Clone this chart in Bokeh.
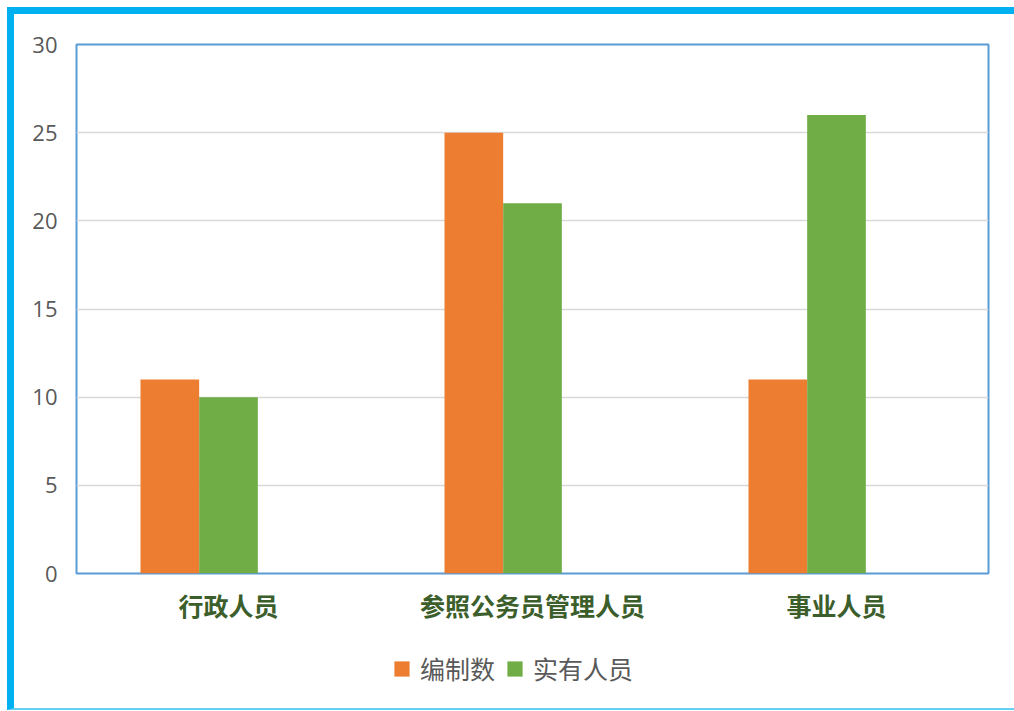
from bokeh.plotting import figure
from bokeh.layouts import column
from bokeh.models import ColumnDataSource, FactorRange, Legend, LegendItem, FixedTicker, InlineStyleSheet
from bokeh.transform import dodge
from bokeh.embed import file_html
from bokeh.resources import INLINE

categories = ["行政人员", "参照公务员管理人员", "事业人员"]
bianzhi = [11, 25, 11]      # 编制数
shiyou = [10, 21, 26]       # 实有人员
series_names = ["编制数", "实有人员"]
series_colors = ["#ED7D31", "#70AD47"]
y_ticks = [0, 5, 10, 15, 20, 25, 30]

src = ColumnDataSource(data=dict(cat=categories, bianzhi=bianzhi, shiyou=shiyou))

W = 1014
H1, H2 = 625, 86
p = figure(x_range=FactorRange(*categories), y_range=(0, 30),
           width=W, height=H1, output_backend="svg", toolbar_location=None,
           min_border_left=76, min_border_right=26, min_border_top=44, min_border_bottom=47)
p.background_fill_color = "white"
p.border_fill_color = "white"
p.outline_line_color = "#5B9BD5"
p.outline_line_width = 2

bw = 0.193
r1 = p.vbar(x=dodge("cat", -bw, range=p.x_range), top="bianzhi", width=bw, source=src,
            fill_color=series_colors[0], line_color=None)
r2 = p.vbar(x=dodge("cat", 0.0, range=p.x_range), top="shiyou", width=bw, source=src,
            fill_color=series_colors[1], line_color=None)

# axes
p.yaxis.ticker = FixedTicker(ticks=y_ticks)
p.yaxis.axis_line_color = None
p.yaxis.major_tick_line_color = None
p.yaxis.minor_tick_line_color = None
p.yaxis.major_label_text_font = "Open Sans"
p.yaxis.major_label_text_font_size = "22px"
p.yaxis.major_label_text_color = "#595959"
p.yaxis.major_label_standoff = 13

p.xaxis.axis_line_color = None
p.xaxis.major_tick_line_color = None
p.xaxis.minor_tick_line_color = None
p.xaxis.major_label_text_font = "Noto Sans CJK SC"
p.xaxis.major_label_text_font_style = "bold"
p.xaxis.major_label_text_font_size = "25px"
p.xaxis.major_label_text_color = "#3B5E2B"
p.xaxis.major_label_standoff = 7

p.xgrid.grid_line_color = None
p.ygrid.grid_line_color = "#D9D9D9"
p.ygrid.grid_line_width = 1.5

# legend strip below the chart
q = figure(width=W, height=H2, output_backend="svg", toolbar_location=None,
           x_axis_type=None, y_axis_type=None, x_range=(0, 1), y_range=(0, 1),
           min_border=0)
q.outline_line_color = None
q.background_fill_color = "white"
q.border_fill_color = "white"
q.xgrid.grid_line_color = None
q.ygrid.grid_line_color = None
# invisible proxies, only used to draw the legend swatches
lr1 = q.vbar(x=[0], top=[bianzhi[0]], width=1, fill_color=series_colors[0], line_color=None, visible=False)
lr2 = q.vbar(x=[0], top=[shiyou[0]], width=1, fill_color=series_colors[1], line_color=None, visible=False)

legend = Legend(items=[LegendItem(label=series_names[0], renderers=[lr1]),
                       LegendItem(label=series_names[1], renderers=[lr2])],
                location=(316, 25), orientation="horizontal",
                padding=0, margin=0, spacing=10,
                glyph_width=19, glyph_height=19, label_standoff=9,
                label_text_font="Noto Sans CJK SC", label_text_font_size="25px",
                label_text_color="#595959", border_line_color=None,
                background_fill_alpha=0)
q.add_layout(legend, "center")

# outer cyan frame drawn over the canvases (does not affect layout)
p.stylesheets = [InlineStyleSheet(css="""
:host { position: relative; }
:host::after {
  content: ""; position: absolute;
  left: 7px; top: 7px; width: 1007px; height: 618px;
  box-sizing: border-box;
  border-top: 7px solid #00B0F0; border-left: 7px solid #00B0F0;
  pointer-events: none; z-index: 10;
}
""")]
q.stylesheets = [InlineStyleSheet(css="""
:host { position: relative; }
:host::after {
  content: ""; position: absolute;
  left: 7px; top: 0px; width: 1007px; height: 85px;
  box-sizing: border-box;
  border-left: 7px solid #00B0F0; border-bottom: 2px solid #66D0F2;
  pointer-events: none; z-index: 10;
}
""")]

layout = column(p, q, spacing=0)
open("out.html", "w").write(file_html(layout, INLINE))
